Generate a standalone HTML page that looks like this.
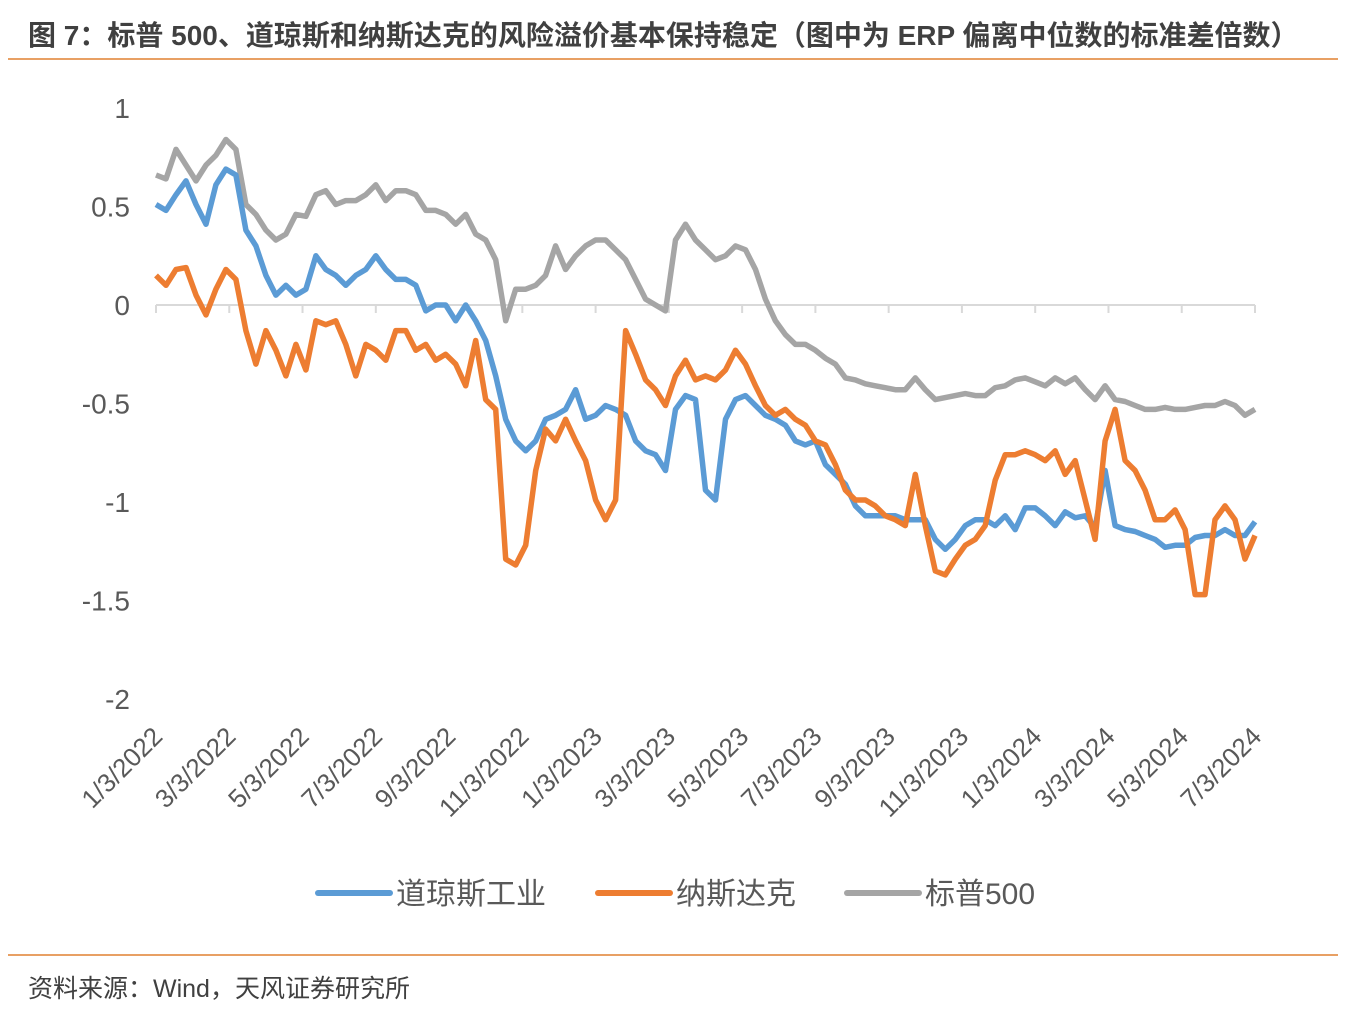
<!DOCTYPE html>
<html><head><meta charset="utf-8">
<style>
body{margin:0;background:#fff;width:1354px;height:1010px;overflow:hidden;font-family:"Liberation Sans","Noto Sans CJK SC",sans-serif;}
.title{position:absolute;left:28px;top:14px;font-size:28px;font-weight:bold;color:#404040;white-space:nowrap;}
.rule{position:absolute;left:8px;width:1330px;height:2px;background:#e8a064;}
.src{position:absolute;left:28px;top:969px;font-size:25px;color:#404040;}
svg{position:absolute;left:0;top:0;}
</style></head><body>
<div class="title">图 7：标普 500、道琼斯和纳斯达克的风险溢价基本保持稳定（图中为 ERP 偏离中位数的标准差倍数）</div>
<div class="rule" style="top:58px"></div>
<div class="rule" style="top:954px"></div>
<div class="src">资料来源：Wind，天风证券研究所</div>
<svg id="chart" width="1354" height="1010"></svg>
<script>
const yTicks=[1,0.5,0,-0.5,-1,-1.5,-2];
const yTickLabels=["1","0.5","0","-0.5","-1","-1.5","-2"];
const xTickLabels=["1/3/2022","3/3/2022","5/3/2022","7/3/2022","9/3/2022","11/3/2022","1/3/2023","3/3/2023","5/3/2023","7/3/2023","9/3/2023","11/3/2023","1/3/2024","3/3/2024","5/3/2024","7/3/2024"];
const seriesNames=["道琼斯工业","纳斯达克","标普500"];
const sp500=[0.66,0.64,0.79,0.71,0.63,0.71,0.76,0.84,0.79,0.51,0.46,0.38,0.33,0.36,0.46,0.45,0.56,0.58,0.51,0.53,0.53,0.56,0.61,0.53,0.58,0.58,0.56,0.48,0.48,0.46,0.41,0.46,0.36,0.33,0.23,-0.08,0.08,0.08,0.10,0.15,0.30,0.18,0.25,0.30,0.33,0.33,0.28,0.23,0.13,0.03,0.00,-0.03,0.33,0.41,0.33,0.28,0.23,0.25,0.30,0.28,0.18,0.03,-0.08,-0.15,-0.20,-0.20,-0.23,-0.27,-0.30,-0.37,-0.38,-0.40,-0.41,-0.42,-0.43,-0.43,-0.37,-0.43,-0.48,-0.47,-0.46,-0.45,-0.46,-0.46,-0.42,-0.41,-0.38,-0.37,-0.39,-0.41,-0.37,-0.40,-0.37,-0.43,-0.48,-0.41,-0.48,-0.49,-0.51,-0.53,-0.53,-0.52,-0.53,-0.53,-0.52,-0.51,-0.51,-0.49,-0.51,-0.56,-0.53];
const dow=[0.51,0.48,0.56,0.63,0.51,0.41,0.61,0.69,0.66,0.38,0.30,0.15,0.05,0.10,0.05,0.08,0.25,0.18,0.15,0.10,0.15,0.18,0.25,0.18,0.13,0.13,0.10,-0.03,0.00,0.00,-0.08,0.00,-0.08,-0.18,-0.36,-0.58,-0.69,-0.74,-0.69,-0.58,-0.56,-0.53,-0.43,-0.58,-0.56,-0.51,-0.53,-0.56,-0.69,-0.74,-0.76,-0.84,-0.53,-0.46,-0.48,-0.94,-0.99,-0.58,-0.48,-0.46,-0.51,-0.56,-0.58,-0.61,-0.69,-0.71,-0.69,-0.81,-0.86,-0.91,-1.02,-1.07,-1.07,-1.07,-1.07,-1.09,-1.09,-1.09,-1.19,-1.24,-1.19,-1.12,-1.09,-1.09,-1.12,-1.07,-1.14,-1.03,-1.03,-1.07,-1.12,-1.05,-1.08,-1.07,-1.13,-0.84,-1.12,-1.14,-1.15,-1.17,-1.19,-1.23,-1.22,-1.22,-1.18,-1.17,-1.17,-1.14,-1.17,-1.17,-1.10];
const nasdaq=[0.15,0.10,0.18,0.19,0.05,-0.05,0.08,0.18,0.13,-0.13,-0.30,-0.13,-0.23,-0.36,-0.20,-0.33,-0.08,-0.10,-0.08,-0.20,-0.36,-0.20,-0.23,-0.28,-0.13,-0.13,-0.23,-0.20,-0.28,-0.25,-0.30,-0.41,-0.18,-0.48,-0.53,-1.29,-1.32,-1.22,-0.84,-0.63,-0.69,-0.58,-0.69,-0.79,-0.99,-1.09,-0.99,-0.13,-0.25,-0.38,-0.43,-0.51,-0.36,-0.28,-0.38,-0.36,-0.38,-0.33,-0.23,-0.30,-0.41,-0.51,-0.56,-0.53,-0.58,-0.61,-0.69,-0.71,-0.81,-0.94,-0.99,-0.99,-1.02,-1.07,-1.09,-1.12,-0.86,-1.12,-1.35,-1.37,-1.29,-1.22,-1.19,-1.12,-0.89,-0.76,-0.76,-0.74,-0.76,-0.79,-0.74,-0.86,-0.79,-0.99,-1.19,-0.69,-0.53,-0.79,-0.84,-0.94,-1.09,-1.09,-1.04,-1.14,-1.47,-1.47,-1.09,-1.02,-1.09,-1.29,-1.17];

const NS="http://www.w3.org/2000/svg";
const svg=document.getElementById('chart');
const X0=156,X1=1255,Y0=305,PX=197;
const yScale=v=>Y0-v*PX;
const xIdx=(i,n)=>X0+(X1-X0)*i/(n-1);
const xTick=i=>X0+(X1-X0)*i/(xTickLabels.length-1);
function mk(tag,attrs){const e=document.createElementNS(NS,tag);for(const k in attrs)e.setAttribute(k,attrs[k]);svg.appendChild(e);return e;}

yTicks.forEach((v,i)=>{
  const t=mk('text',{x:130,y:yScale(v)+10,'text-anchor':'end','font-size':28,fill:'#595959','font-family':'Liberation Sans, sans-serif'});
  t.textContent=yTickLabels[i];
  
  
});
const ax=mk('line',{x1:X0,x2:X1,y1:Y0,y2:Y0,stroke:'#d9d9d9','stroke-width':2});


xTickLabels.forEach((s,i)=>{
  const x=xTick(i);
  const tk=mk('line',{x1:x,x2:x,y1:Y0,y2:Y0+8,stroke:'#d9d9d9','stroke-width':2});
  
  
  const lx=x+8, ly=738;
  const t=mk('text',{x:lx,y:ly,'text-anchor':'end','font-size':26,fill:'#595959','font-family':'Liberation Sans, sans-serif',transform:`rotate(-45 ${lx} ${ly})`});
  t.textContent=s;
  
  
});
function line(arr,color,name){
  const d=arr.map((v,i)=>(i?'L':'M')+xIdx(i,arr.length).toFixed(1)+','+yScale(v).toFixed(1)).join('');
  const p=mk('path',{d:d,fill:'none',stroke:color,'stroke-width':5.5,'stroke-linejoin':'round'});
  
  
}
line(sp500,'#a5a5a5','sp500-line');
line(dow,'#5b9bd5','dow-line');
line(nasdaq,'#ed7d31','nasdaq-line');
const leg=[[318,'#5b9bd5'],[598,'#ed7d31'],[847,'#a5a5a5']];
leg.forEach((l,i)=>{
  const ln=mk('line',{x1:l[0],x2:l[0]+72,y1:893,y2:893,stroke:l[1],'stroke-width':6,'stroke-linecap':'round'});
  
  
  const t=mk('text',{x:l[0]+78,y:904,'font-size':30,fill:'#595959','font-family':'Liberation Sans, Noto Sans CJK SC, sans-serif'});
  t.textContent=seriesNames[i];
  
  
});
</script>
</body></html>
